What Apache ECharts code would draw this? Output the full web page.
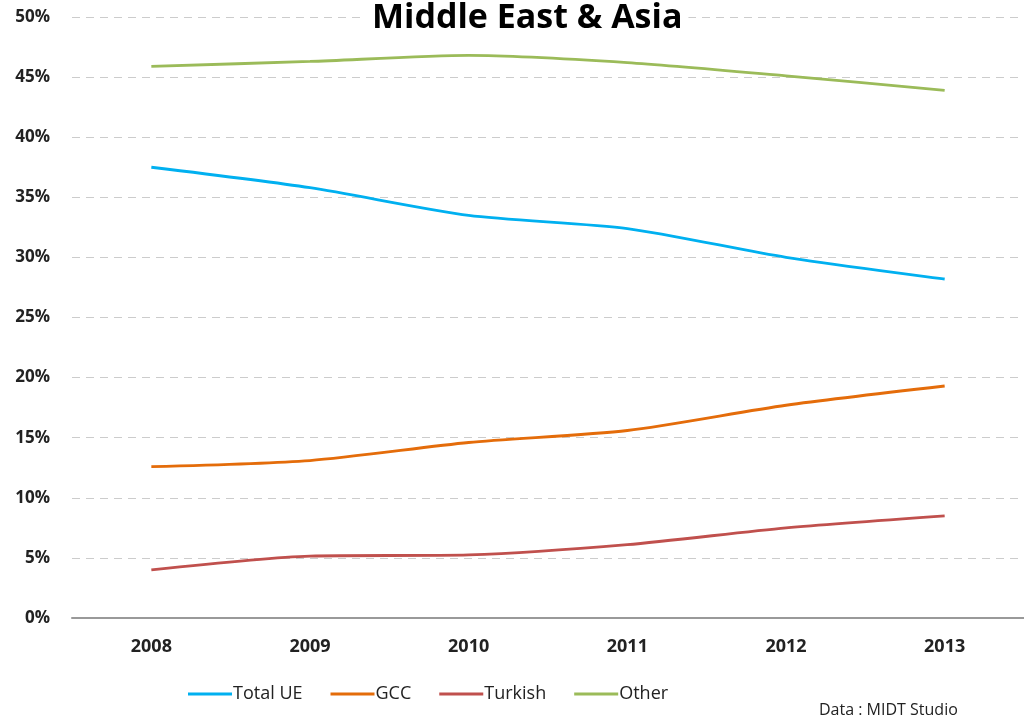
<!DOCTYPE html>
<html><head><meta charset="utf-8">
<script src="https://cdn.jsdelivr.net/npm/echarts@6/dist/echarts.min.js"></script>
<style>html,body{margin:0;padding:0;background:#fff}#c{width:1024px;height:722px}</style>
</head><body><div id="c"></div>
<script>
const years = ['2008','2009','2010','2011','2012','2013'];
const totalUE = [37.5, 35.8, 33.5, 32.4, 30.0, 28.2];
const gcc = [12.6, 13.1, 14.6, 15.6, 17.7, 19.3];
const turkish = [4.0, 5.15, 5.25, 6.1, 7.5, 8.5];
const other = [45.9, 46.3, 46.8, 46.2, 45.1, 43.9];
const yTicks = [0,5,10,15,20,25,30,35,40,45,50];

const font = '"Open Sans", "Noto Sans", sans-serif';
const chart = echarts.init(document.getElementById('c'));
function mk(name, data, color){
  return {name, type:'line', data, smooth:0.25, symbol:'none',
    lineStyle:{width:2.8, color}, itemStyle:{color}};
}
chart.setOption({
  animation:false,
  title:{text:'Middle East & Asia', left:366, top:1,
    backgroundColor:'#fff', padding:[0,6,0,6],
    textStyle:{fontFamily:font, fontWeight:'bold', fontSize:34, color:'#000'}},
  grid:{left:72, top:17, width:957, height:601},
  legend:{left:183, top:680, itemWidth:44, itemHeight:3, itemGap:28,
    icon:'rect',
    textStyle:{fontFamily:font, fontSize:18, color:'#222', padding:[0,0,0,-4]},
    data:['Total UE','GCC','Turkish','Other']},
  graphic:[{type:'text', left:819, top:702,
    style:{text:'Data : MIDT Studio', fontFamily:font, fontSize:16, fill:'#222'}}],
  xAxis:{type:'category', data:years, boundaryGap:true,
    axisLine:{lineStyle:{color:'#999', width:2}}, axisTick:{show:false},
    axisLabel:{fontFamily:font, fontWeight:'bold', fontSize:18, color:'#222', margin:20}},
  yAxis:{type:'value', min:yTicks[0], max:yTicks[yTicks.length-1], interval:5,
    axisLine:{show:false}, axisTick:{show:false},
    splitLine:{lineStyle:{type:[8,6], color:'#ccc', width:1}},
    axisLabel:{fontFamily:font, fontWeight:'bold', fontSize:17, color:'#222', margin:22,
      formatter:v=>v+'%'}},
  series:[mk('Total UE',totalUE,'#00B0F0'), mk('GCC',gcc,'#E46C0A'),
    mk('Turkish',turkish,'#C0504D'), mk('Other',other,'#9BBB59')]
});
</script></body></html>
